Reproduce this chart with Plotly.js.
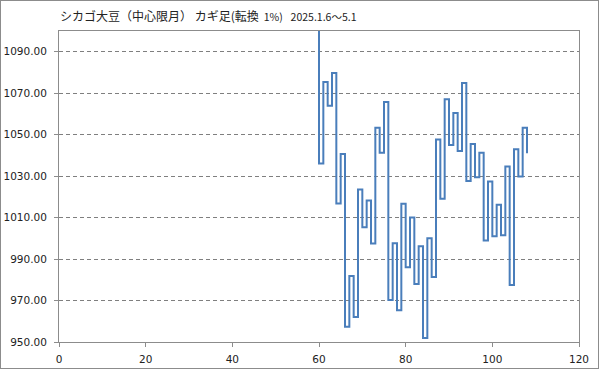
<!DOCTYPE html>
<html>
<head>
<meta charset="utf-8">
<script src="https://cdn.plot.ly/plotly-3.0.1.min.js"></script>
<style>
  html, body { margin: 0; padding: 0; background: #fff; }
  #wrap { position: relative; width: 599px; height: 369px; }
  #chart { position: absolute; left: 0; top: 0; width: 599px; height: 369px; }
  #frame { position: absolute; left: 0; top: 0; width: 599px; height: 369px; box-sizing: border-box; border: 1px solid #8c8c8c; pointer-events: none; }
</style>
</head>
<body>
<div id="wrap"><div id="chart"></div><div id="frame"></div></div>
<script>
// Kagi chart data (turning levels), one x step per turn
const startX = 60;
const kagiStart = 1104;
const turns = [1036.1, 1075.4, 1063.9, 1079.7, 1016.8, 1040.7, 957.3, 981.8, 962.1, 1023.6,
  1005.3, 1018.3, 997.5, 1053.3, 1041.3, 1065.8, 970.3, 997.6, 965.3, 1016.7,
  986.1, 1010.1, 978.0, 996.2, 951.9, 1000.0, 981.3, 1047.7, 1019.1, 1067.1,
  1045.0, 1060.5, 1042.1, 1074.9, 1027.7, 1045.5, 1029.5, 1041.3, 998.9, 1027.4,
  1001.0, 1016.2, 1001.5, 1034.6, 977.5, 1043.0, 1029.8, 1053.3, 1041.0];
const xTicks = [0, 20, 40, 60, 80, 100, 120];
const yTicks = [950, 970, 990, 1010, 1030, 1050, 1070, 1090];
const titleText = 'シカゴ大豆（中心限月） カギ足(転換 <span style="font-size:10.5px"> 1%)</span>  <span style="font-size:10.5px"> 2025.1.6～5.1</span>';

const xs = [startX].concat(turns.map((_, i) => startX + i));
const ys = [kagiStart].concat(turns);

const trace = {
  x: xs, y: ys, type: 'scatter', mode: 'lines',
  line: { shape: 'hv', color: '#4a7ebb', width: 2 },
  hoverinfo: 'skip'
};

const axisCommon = {
  showline: true, mirror: true, linecolor: '#8c8c8c', linewidth: 1,
  ticks: 'outside', ticklen: 4, tickcolor: '#8c8c8c',
  tickfont: { family: 'DejaVu Sans, sans-serif', size: 10.5, color: '#222' },
  zeroline: false, fixedrange: true
};

const layout = {
  width: 599, height: 369,
  margin: { l: 59, r: 20, t: 31, b: 27 },
  paper_bgcolor: '#fff', plot_bgcolor: '#fff',
  showlegend: false,
  title: {
    text: titleText,
    font: { family: 'Noto Sans CJK JP, sans-serif', size: 12, color: '#222' },
    xref: 'container', yref: 'container',
    x: 60 / 599, xanchor: 'left',
    y: 1 - 17 / 369, yanchor: 'middle'
  },
  xaxis: Object.assign({}, axisCommon, {
    range: [0, 120], tickvals: xTicks, ticktext: xTicks.map(String),
    showgrid: false, ticklabelstandoff: 3
  }),
  yaxis: Object.assign({}, axisCommon, {
    range: [950, 1100], tickvals: yTicks, ticktext: yTicks.map(v => v.toFixed(2)),
    showgrid: true, gridcolor: '#7f7f7f', gridwidth: 1, griddash: '4px,3px',
    ticklabelstandoff: 5
  })
};

Plotly.newPlot('chart', [trace], layout, { staticPlot: true, displayModeBar: false });
</script>
</body>
</html>
